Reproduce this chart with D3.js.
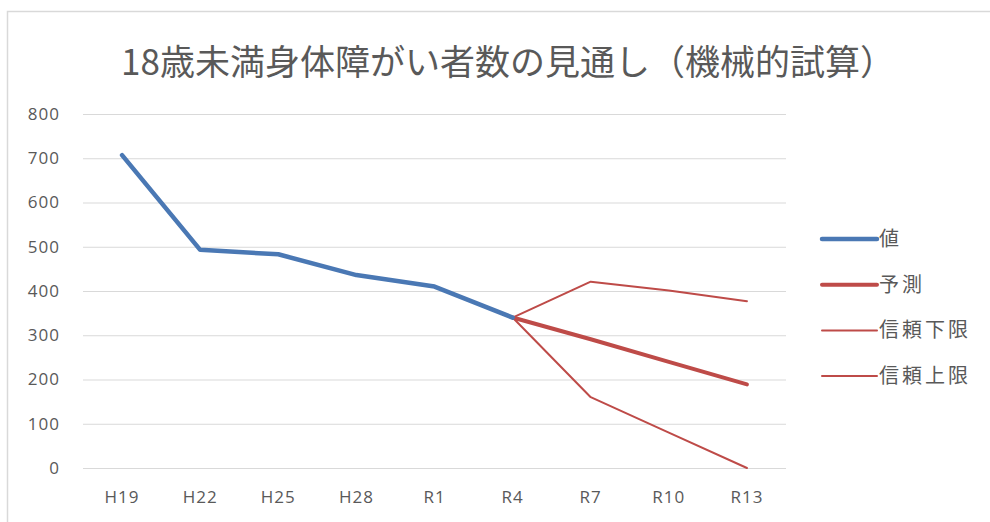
<!DOCTYPE html>
<html lang="ja">
<head>
<meta charset="utf-8">
<script src="https://cdn.jsdelivr.net/npm/d3@7"></script>
<style>
  html, body { margin: 0; padding: 0; background: #fff; }
  svg { display: block; font-family: "Noto Sans CJK JP", "Noto Sans", sans-serif; }
</style>
</head>
<body>
<svg id="chart" width="990" height="522"></svg>
<script>
// Fiscal-year categories (Heisei / Reiwa)
const categories = ["H19", "H22", "H25", "H28", "R1", "R4", "R7", "R10", "R13"];
// Observed counts (thousand persons)
const actualValues = [707, 493, 483, 436, 410, 340, null, null, null];
// Mechanical projection and its confidence bounds
const forecastValues = [null, null, null, null, null, 340, 291, 240, 189];
const lowerBound = [null, null, null, null, null, 340, 160, 80, 0];
const upperBound = [null, null, null, null, null, 340, 421, 401, 377];
const yTicks = [0, 100, 200, 300, 400, 500, 600, 700, 800];

const seriesList = [
  { name: "値", values: actualValues, color: "#4a78b4", width: 4.5 },
  { name: "予測", values: forecastValues, color: "#be4b48", width: 4 },
  { name: "信頼下限", values: lowerBound, color: "#be4b48", width: 2 },
  { name: "信頼上限", values: upperBound, color: "#be4b48", width: 2 }
];

const svg = d3.select("#chart");

// Chart frame
svg.append("rect")
  .attr("x", 7.5).attr("y", 11.5)
  .attr("width", 1000).attr("height", 530)
  .attr("fill", "#fff").attr("stroke", "#d9d9d9").attr("stroke-width", 1.5);

// Title
svg.append("text")
  .attr("x", 508).attr("y", 75)
  .attr("text-anchor", "middle")
  .attr("font-size", 35)
  .attr("fill", "#595959")
  .text("18歳未満身体障がい者数の見通し（機械的試算）");

const plot = { left: 83, right: 786, top: 114, bottom: 468 };

const x = d3.scaleBand().domain(categories).range([plot.left, plot.right]);
const y = d3.scaleLinear().domain([0, 800]).range([plot.bottom, plot.top]);

// Gridlines
svg.append("g")
  .selectAll("line")
  .data(yTicks)
  .join("line")
  .attr("x1", plot.left).attr("x2", plot.right)
  .attr("y1", d => y(d) + 0.5).attr("y2", d => y(d) + 0.5)
  .attr("stroke", "#d9d9d9").attr("stroke-width", 1);

const tickFont = "'Open Sans', 'Noto Sans', sans-serif";

// Y axis labels
const yAxis = d3.axisLeft(y).tickValues(yTicks).tickSize(0).tickPadding(0);
const gy = svg.append("g").attr("transform", `translate(${plot.left - 23},0)`).call(yAxis);
gy.select(".domain").remove();
gy.selectAll("text")
  .attr("font-size", 17)
  .attr("letter-spacing", 1)
  .attr("fill", "#595959")
  .attr("font-family", tickFont);

// X axis labels
const xAxis = d3.axisBottom(x).tickSize(0).tickPadding(0);
const gx = svg.append("g").attr("transform", `translate(0,${plot.bottom + 23})`).call(xAxis);
gx.select(".domain").remove();
gx.selectAll("text")
  .attr("font-size", 17)
  .attr("letter-spacing", 1)
  .attr("fill", "#595959")
  .attr("font-family", tickFont);

// Series lines
const line = d3.line()
  .defined(d => d.v !== null)
  .x(d => x(d.c) + x.bandwidth() / 2)
  .y(d => y(d.v));

const drawOrder = [seriesList[2], seriesList[3], seriesList[1], seriesList[0]];
svg.append("g")
  .selectAll("path")
  .data(drawOrder)
  .join("path")
  .attr("d", s => line(s.values.map((v, i) => ({ c: categories[i], v }))))
  .attr("fill", "none")
  .attr("stroke", s => s.color)
  .attr("stroke-width", s => s.width)
  .attr("stroke-linejoin", "round")
  .attr("stroke-linecap", "round");

// Legend
const legend = svg.append("g").attr("transform", "translate(822,239)");
const item = legend.selectAll("g")
  .data(seriesList)
  .join("g")
  .attr("transform", (d, i) => `translate(0,${i * 45.7})`);
item.append("line")
  .attr("x1", 0).attr("x2", 55)
  .attr("y1", 0).attr("y2", 0)
  .attr("stroke", d => d.color)
  .attr("stroke-width", d => d.width)
  .attr("stroke-linecap", "round");
item.append("text")
  .attr("x", 57).attr("y", 0)
  .attr("dy", "0.35em")
  .attr("font-size", 20)
  .attr("letter-spacing", 3)
  .attr("fill", "#595959")
  .text(d => d.name);
</script>
</body>
</html>
